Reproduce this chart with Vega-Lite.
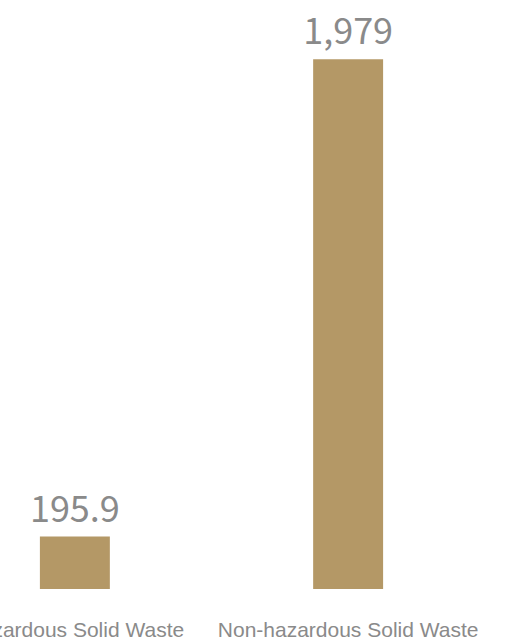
{
  "$schema": "https://vega.github.io/schema/vega-lite/v6.json",
  "width": 423,
  "height": 589,
  "autosize": "none",
  "padding": {"left": 0, "top": 0, "right": 91, "bottom": 51},
  "background": "white",
  "config": {"view": {"stroke": null}},
  "data": {"values": [
    {"category": "Hazardous Solid Waste", "value": 195.9},
    {"category": "Non-hazardous Solid Waste", "value": 1979}
  ]},
  "encoding": {
    "x": {
      "field": "category", "type": "nominal", "sort": null,
      "scale": {"paddingInner": 0.744, "paddingOuter": 0.146},
      "axis": {"title": null, "labelAngle": 0, "domain": false, "ticks": false, "labelPadding": 30,
               "labelFont": "Liberation Sans", "labelFontSize": 21, "labelColor": "#8a8a8a", "labelLimit": 0}
    },
    "y": {
      "field": "value", "type": "quantitative",
      "scale": {"domain": [0, 2200], "nice": false, "zero": true},
      "axis": null
    }
  },
  "layer": [
    {"mark": {"type": "bar", "color": "#b49866"}},
    {"mark": {"type": "text", "baseline": "alphabetic", "dy": -15, "font": "Noto Sans CJK SC", "fontSize": 36, "color": "#8a8a8a"},
     "encoding": {"text": {"field": "value", "type": "quantitative", "format": ","}}}
  ]
}
